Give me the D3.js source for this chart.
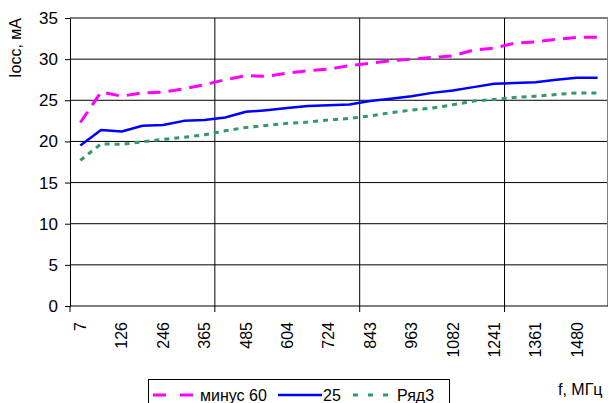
<!DOCTYPE html>
<html>
<head>
<meta charset="utf-8">
<script src="https://cdn.jsdelivr.net/npm/d3@7/dist/d3.min.js"></script>
<style>
  html, body { margin: 0; padding: 0; background: #fff; }
  svg text { font-family: "Liberation Sans", Arial, sans-serif; fill: #000; }
</style>
</head>
<body>
<svg id="chart" width="609" height="403"></svg>
<script>
// Frequency points, MHz (only every other one is labelled on the axis)
const frequencies = ["7", "67", "126", "186", "246", "305", "365", "425", "485", "544",
  "604", "664", "724", "783", "843", "903", "963", "1022", "1082", "1162",
  "1241", "1301", "1361", "1420", "1480", "1540"];

// Supply current, mA, per temperature
const minus60 = [22.3, 26.0, 25.5, 25.9, 26.0, 26.4, 26.9, 27.5, 28.0, 27.9,
  28.3, 28.6, 28.8, 29.2, 29.5, 29.8, 30.0, 30.2, 30.4, 31.1,
  31.35, 31.95, 32.1, 32.4, 32.65, 32.65];
const plus25 = [19.5, 21.4, 21.2, 21.9, 22.0, 22.5, 22.6, 22.9, 23.6, 23.8,
  24.05, 24.3, 24.4, 24.5, 24.9, 25.2, 25.5, 25.9, 26.2, 26.6,
  27.0, 27.1, 27.2, 27.5, 27.75, 27.75];
const row3 = [17.7, 19.7, 19.65, 19.95, 20.25, 20.5, 20.8, 21.3, 21.7, 21.95,
  22.2, 22.35, 22.6, 22.8, 23.1, 23.5, 23.8, 24.05, 24.45, 24.9,
  25.1, 25.35, 25.5, 25.7, 25.9, 25.9];

const yTicks = [0, 5, 10, 15, 20, 25, 30, 35];
const seriesNames = ["минус 60", "25", "Ряд3"];
const yTitle = "Iocc, мА";
const xTitle = "f, МГц";

const series = [
  { name: seriesNames[0], values: minus60, color: "#FF00FF", width: 3, dash: "13,8", legendDash: "13,14" },
  { name: seriesNames[1], values: plus25, color: "#0000FF", width: 2.5, dash: null, legendDash: null },
  { name: seriesNames[2], values: row3, color: "#339966", width: 3, dash: "5,5", legendDash: "5,10" }
];

const svg = d3.select("#chart");
const plot = { left: 70, right: 608, top: 18, bottom: 306 };

const x = d3.scaleBand().domain(frequencies).range([plot.left, plot.right]).padding(0);
const y = d3.scaleLinear().domain([0, 35]).range([plot.bottom, plot.top]);
const cx = f => x(f) + x.bandwidth() / 2;

// horizontal gridlines
svg.append("g")
  .selectAll("line")
  .data(yTicks.filter(t => t > 0))
  .join("line")
  .attr("x1", plot.left).attr("x2", plot.right)
  .attr("y1", d => y(d)).attr("y2", d => y(d))
  .attr("stroke", "#000").attr("stroke-width", 1);

// vertical gridlines every seven categories
const majorIdx = [7, 14, 21];
svg.append("g")
  .selectAll("line")
  .data(majorIdx)
  .join("line")
  .attr("x1", i => x(frequencies[i])).attr("x2", i => x(frequencies[i]))
  .attr("y1", plot.top).attr("y2", plot.bottom + 6)
  .attr("stroke", "#000").attr("stroke-width", 1);

// plot-area frame on the right
svg.append("line")
  .attr("x1", plot.right - 0.5).attr("x2", plot.right - 0.5)
  .attr("y1", plot.top).attr("y2", plot.bottom)
  .attr("stroke", "#808080").attr("stroke-width", 1);

// y axis
const yAxis = svg.append("g")
  .attr("transform", `translate(${plot.left},0)`)
  .call(d3.axisLeft(y).tickValues(yTicks).tickSize(5).tickPadding(7));
yAxis.select(".domain").attr("stroke", "#000");
yAxis.selectAll(".tick line").attr("stroke", "#000");
yAxis.selectAll(".tick text")
  .attr("font-size", 17)
  .attr("font-family", "'Liberation Sans', Arial, sans-serif")
  .attr("fill", "#000");

// x axis baseline and tick marks
svg.append("line")
  .attr("x1", plot.left).attr("x2", plot.right)
  .attr("y1", y(0)).attr("y2", y(0))
  .attr("stroke", "#000");
svg.append("line")
  .attr("x1", x(frequencies[0])).attr("x2", x(frequencies[0]))
  .attr("y1", y(0)).attr("y2", y(0) + 6)
  .attr("stroke", "#000");

// x axis labels (every other category, rotated)
const xAxis = svg.append("g")
  .attr("transform", `translate(0,${plot.bottom})`)
  .call(d3.axisBottom(x)
    .tickValues(frequencies.filter((d, i) => i % 2 === 0))
    .tickSize(0));
xAxis.select(".domain").remove();
xAxis.selectAll(".tick text")
  .attr("font-size", 16)
  .attr("font-family", "'Liberation Sans', Arial, sans-serif")
  .attr("fill", "#000")
  .attr("text-anchor", "end")
  .attr("transform", "rotate(-90)")
  .attr("x", -16)
  .attr("y", 0)
  .attr("dy", "0.36em");

// series lines
const line = d3.line()
  .x((d, i) => cx(frequencies[i]))
  .y(d => y(d));

svg.append("g")
  .selectAll("path")
  .data(series)
  .join("path")
  .attr("d", s => line(s.values))
  .attr("fill", "none")
  .attr("stroke", s => s.color)
  .attr("stroke-width", s => s.width)
  .attr("stroke-dasharray", s => s.dash)
  .attr("stroke-linejoin", "round");

// axis titles
svg.append("text")
  .attr("transform", "translate(21,48) rotate(-90)")
  .attr("text-anchor", "middle")
  .attr("font-size", 16)
  .text(yTitle);

svg.append("text")
  .attr("x", 558).attr("y", 395)
  .attr("font-size", 16)
  .text(xTitle);

// legend
const legend = svg.append("g");
legend.append("rect")
  .attr("x", 148.5).attr("y", 379.5)
  .attr("width", 301).attr("height", 40)
  .attr("fill", "#fff").attr("stroke", "#000");

const legendItems = [
  { x0: 153, x1: 193, tx: 200 },
  { x0: 278, x1: 322, tx: 323 },
  { x0: 353, x1: 395, tx: 397 }
];
series.forEach((s, i) => {
  const it = legendItems[i];
  legend.append("line")
    .attr("x1", it.x0).attr("x2", it.x1)
    .attr("y1", 395).attr("y2", 395)
    .attr("stroke", s.color)
    .attr("stroke-width", s.width)
    .attr("stroke-dasharray", s.legendDash);
  legend.append("text")
    .attr("x", it.tx).attr("y", 400.5)
    .attr("font-size", 16)
    .text(s.name);
});
</script>
</body>
</html>
